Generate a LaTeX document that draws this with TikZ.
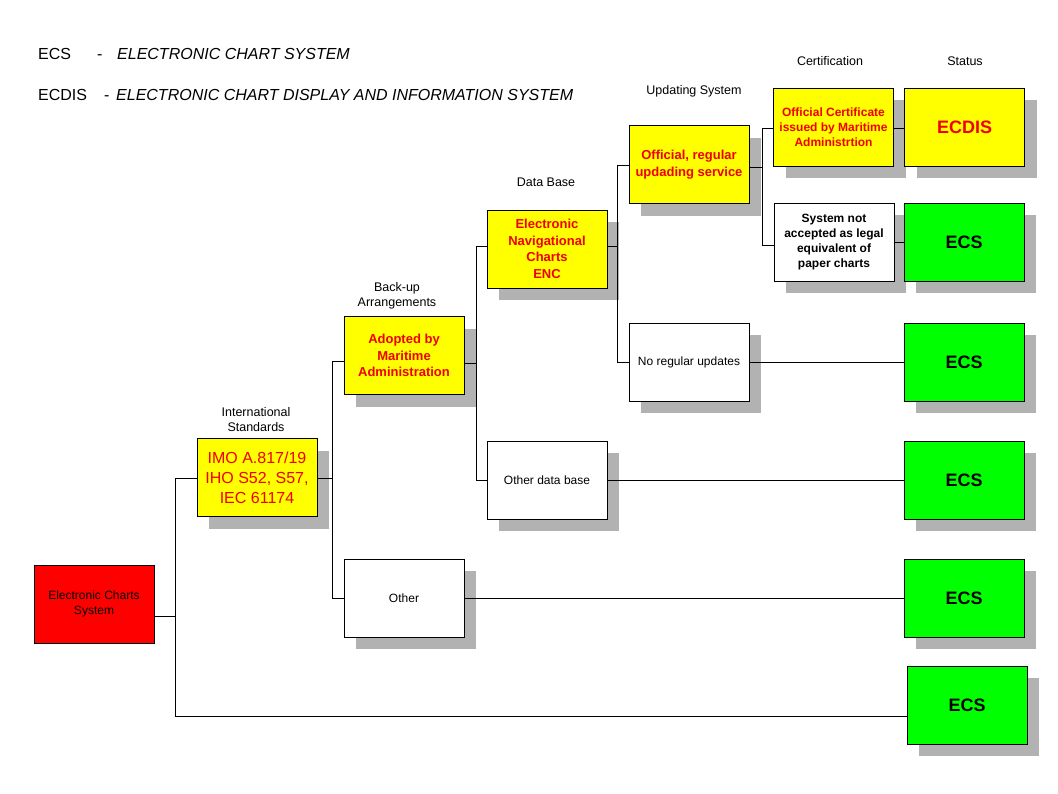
\documentclass[tikz,border=0pt]{standalone}
\usepackage{fontspec}
\setmainfont{Liberation Sans}
\usetikzlibrary{shadows}
\definecolor{boxyellow}{RGB}{255,255,0}
\definecolor{boxred}{RGB}{255,0,0}
\definecolor{boxgreen}{RGB}{0,255,0}
\definecolor{txtred}{RGB}{240,0,0}
\definecolor{shadowgray}{RGB}{178,178,178}
\tikzset{
  box/.style={draw=black, line width=0.8pt, minimum width=120pt, minimum height=78pt,
              inner sep=1pt, align=center},
  shd/.style={drop shadow={shadow xshift=12pt, shadow yshift=-12pt, fill=shadowgray, opacity=1, draw=none}},
  ybox/.style={box, shd, fill=boxyellow, text=txtred, font=\fontsize{13}{16.5}\selectfont\bfseries},
  wbox/.style={box, shd, fill=white, text=black, font=\fontsize{12}{15}\selectfont\bfseries},
  wboxr/.style={box, shd, fill=white, text=black, font=\fontsize{12}{15}\selectfont},
  gbox/.style={box, shd, fill=boxgreen, text=black, font=\fontsize{18}{21}\selectfont\bfseries},
  lbl/.style={inner sep=0pt, align=center, font=\fontsize{12.5}{15}\selectfont},
  hdr/.style={inner sep=0pt, anchor=base west, font=\fontsize{16}{19}\selectfont},
  conn/.style={draw=black, line width=0.8pt}
}
\begin{document}
\begin{tikzpicture}[x=1pt,y=-1pt]
\useasboundingbox[fill=white] (0,0) rectangle (1058,793);

% header
\node[hdr] (h1) at (38,59) {ECS};
\node[hdr] (h1d) at (97,59) {-};
\node[hdr] (h1t) at (117,59) {\itshape ELECTRONIC CHART SYSTEM};
\node[hdr] (h2) at (38,100) {ECDIS};
\node[hdr] (h2d) at (104,100) {-};
\node[hdr] (h2t) at (116,100) {\itshape ELECTRONIC CHART DISPLAY AND INFORMATION SYSTEM};

% column labels
\node[lbl] (l1) at (256,420) {International\\Standards};
\node[lbl] (l2) at (397,295.5) {Back-up\\Arrangements};
\node[lbl] (l3) at (546,182) {Data Base};
\node[lbl] (l4) at (694,91) {Updating System};
\node[lbl] (l5) at (830,61) {Certification};
\node[lbl] (l6) at (965,61) {Status};

% boxes
\node[box, fill=boxred, text=black, font=\fontsize{12}{15}\selectfont] (ecs) at (94,604) {Electronic Charts\\System};
\node[ybox, font=\fontsize{16}{20}\selectfont] (imo) at (257,477.5) {IMO A.817/19\\IHO S52, S57,\\IEC 61174};
\node[ybox] (adopt) at (404,355.5) {Adopted by\\Maritime\\Administration};
\node[wboxr] (other) at (404,598) {Other};
\node[ybox] (enc) at (547,249) {Electronic\\Navigational\\Charts\\ENC};
\node[wboxr] (odb) at (547,480) {Other data base};
\node[ybox] (offi) at (689,164.5) {Official, regular\\updading service};
\node[wboxr] (noreg) at (689,362) {No regular updates};
\node[ybox, font=\fontsize{12}{15}\selectfont\bfseries] (cert) at (833.5,127) {Official Certificate\\issued by Maritime\\Administrtion};
\node[wbox] (notacc) at (834,242) {System not\\accepted as legal\\equivalent of\\paper charts};
\node[ybox, font=\fontsize{18}{21}\selectfont\bfseries] (ecdis) at (964.5,127) {ECDIS};
\node[gbox] (s1) at (964,242) {ECS};
\node[gbox] (s2) at (964,362) {ECS};
\node[gbox] (s3) at (964,480) {ECS};
\node[gbox] (s4) at (964,598) {ECS};
\node[gbox] (s5) at (967,705) {ECS};

% connectors
\coordinate (j0) at (175,616);
\coordinate (j1) at (175,716);
\draw[conn] (ecs.east |- j0) -- (j0);
\draw[conn] (imo.west |- 0,478) -| (j1) -- (s5.west |- j1);

\coordinate (j2) at (332,478);
\draw[conn] (imo.east |- j2) -- (j2);
\draw[conn] (adopt.west |- 0,361) -| (j2 |- other.west) -- (other.west);
\draw[conn] (other.east) -- (s4.west);

\coordinate (j3) at (476,363);
\draw[conn] (adopt.east |- j3) -- (j3);
\draw[conn] (enc.west |- 0,246) -| (j3 |- odb.west) -- (odb.west);
\draw[conn] (odb.east) -- (s3.west);

\coordinate (j4) at (617,246);
\draw[conn] (enc.east |- j4) -- (j4);
\draw[conn] (offi.west |- 0,165) -| (j4 |- noreg.west) -- (noreg.west);
\draw[conn] (noreg.east) -- (s2.west);

\coordinate (j5) at (762,167);
\draw[conn] (offi.east |- j5) -- (j5);
\draw[conn] (cert.west |- 0,128) -| (j5 |- 0,245) -- (notacc.west |- 0,245);
\draw[conn] (cert.east |- 0,128) -- (ecdis.west |- 0,128);
\draw[conn] (notacc.east) -- (s1.west);
\end{tikzpicture}
\end{document}
